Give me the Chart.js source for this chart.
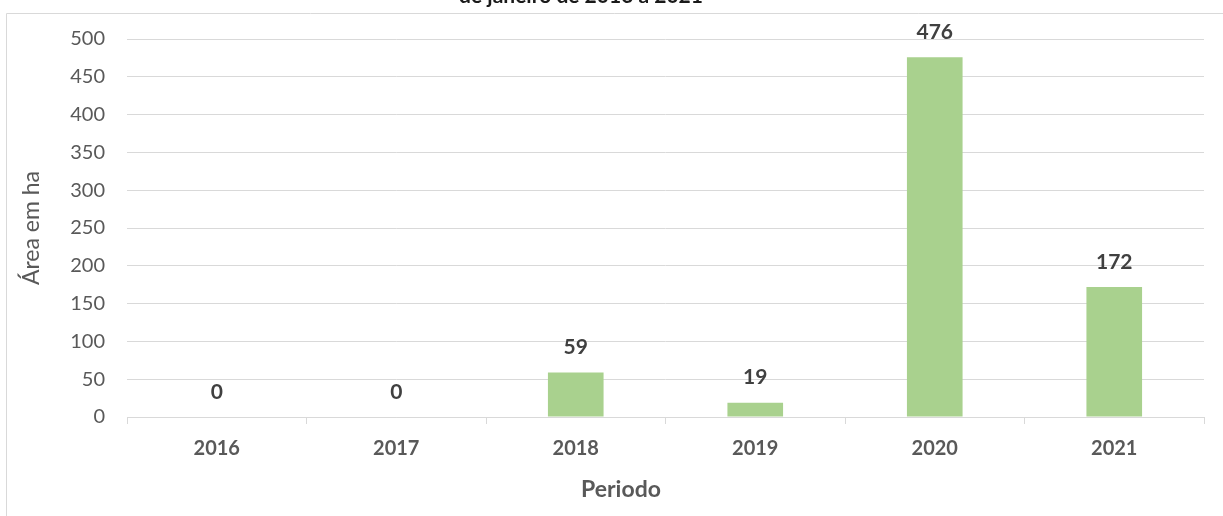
<!DOCTYPE html>
<html>
<head>
<meta charset="utf-8">
<script src="https://cdn.jsdelivr.net/npm/chart.js@4"></script>
<style>
  body { margin: 0; background: #fff; }
  #wrap { position: relative; width: 1223px; height: 516px; }
</style>
</head>
<body>
<div id="wrap"><canvas id="myChart"></canvas></div>
<script>
var anos = ["2016", "2017", "2018", "2019", "2020", "2021"];
var area = [0, 0, 59, 19, 476, 172];
var titulo = "de janeiro de 2016 a 2021";
var tituloX = "Periodo";
var tituloY = "Área em ha";
var fonte = "Lato, 'Open Sans', sans-serif";

// moldura, titulo (cortado no topo, como no original) e titulo do eixo x
var moldura = {
    id: "moldura",
    beforeDraw: function (chart) {
        var c = chart.ctx;
        c.save();
        c.strokeStyle = "#d9d9d9";
        c.lineWidth = 1;
        c.beginPath();
        c.moveTo(6.5, 516);
        c.lineTo(6.5, 13.5);
        c.lineTo(1223, 13.5);
        c.stroke();
        c.fillStyle = "#1a1a1a";
        c.font = "bold 21px " + fonte;
        c.textAlign = "center";
        c.textBaseline = "alphabetic";
        c.fillText(titulo, 581, 3);
        c.fillStyle = "#595959";
        c.font = "bold 23px " + fonte;
        c.textBaseline = "middle";
        c.fillText(tituloX, 621, 490);
        c.restore();
    }
};

// rotulos de dados acima das barras
var rotulos = {
    id: "rotulos",
    afterDatasetsDraw: function (chart) {
        var c = chart.ctx;
        var meta = chart.getDatasetMeta(0);
        c.save();
        c.fillStyle = "#404040";
        c.font = "bold 21px " + fonte;
        c.textAlign = "center";
        c.textBaseline = "middle";
        meta.data.forEach(function (bar, i) {
            c.fillText(area[i], bar.x, bar.y - 25);
        });
        c.restore();
    }
};

var ctx = document.getElementById("myChart");
var myChart = new Chart(ctx, {
    type: 'bar',
    data: {
        labels: anos,
        datasets: [
            {
                data: area,
                backgroundColor: "#a9d18e",
                categoryPercentage: 1,
                barPercentage: 0.31
            }
        ]
    },
    options: {
        responsive: true,
        maintainAspectRatio: false,
        animation: false,
        layout: { padding: { left: 0, top: 39, right: 19, bottom: 0 } },
        plugins: {
            legend: { display: false },
            title: { display: false },
            tooltip: { enabled: false }
        },
        scales: {
            y: {
                min: 0,
                max: 500,
                ticks: {
                    stepSize: 50,
                    padding: 22,
                    color: "#595959",
                    font: { family: fonte, size: 20 }
                },
                grid: { color: "#d9d9d9", drawTicks: false },
                border: { display: false },
                title: {
                    display: true,
                    text: tituloY,
                    color: "#595959",
                    font: { family: fonte, size: 23 },
                    padding: { top: 18, bottom: 0 }
                },
                afterFit: function (scale) { scale.width = 127; }
            },
            x: {
                ticks: {
                    padding: 13,
                    color: "#595959",
                    font: { family: fonte, size: 20, weight: "bold" }
                },
                grid: {
                    offset: true,
                    drawOnChartArea: false,
                    tickLength: 7,
                    color: "#d9d9d9"
                },
                border: { color: "#d9d9d9" },
                afterFit: function (scale) { scale.height = 99; }
            }
        }
    },
    plugins: [moldura, rotulos]
});
</script>
</body>
</html>
